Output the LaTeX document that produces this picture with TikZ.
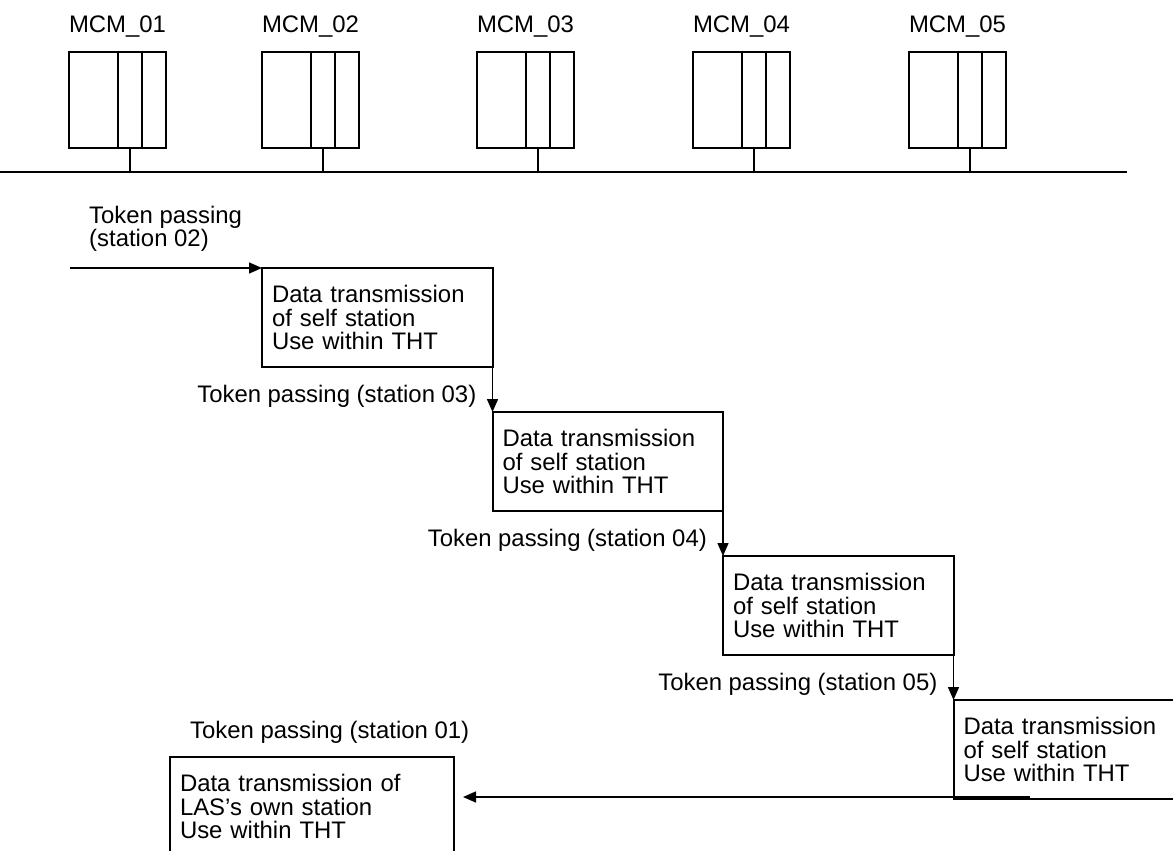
\documentclass[tikz,border=0pt]{standalone}
\usepackage{fontspec}
\setmainfont{Liberation Sans}
\usetikzlibrary{arrows.meta,calc}
\begin{document}
\begin{tikzpicture}[x=1pt,y=-1pt,
  txt/.style={font=\fontsize{23.9}{23.5}\selectfont, inner sep=0pt},
  mcm/.style={draw, line width=2pt, minimum width=97pt, minimum height=96pt, inner sep=0pt, outer sep=0pt, anchor=north west},
  wire/.style={line width=2pt},
  stepbox/.style={draw, line width=2pt, line join=miter, anchor=north west, minimum height=99pt, text width=210.5pt, inner xsep=10pt, inner ysep=0pt, outer sep=0pt, align=left, font=\fontsize{23.9}{23.5}\selectfont},
  conn/.style={line width=1.5pt, -{Triangle[length=13pt,width=11pt]}},
  ]
\useasboundingbox (0,0) rectangle (1173,851);
\clip (0,0) rectangle (1173,851);

% bus
\coordinate (busL) at (0,172);
\coordinate (busR) at (1127,172);
\draw[wire] (busL) -- (busR);

% stations
\foreach \i/\x in {01/69,02/262,03/477,04/693,05/909} {
  \node[mcm] (m\i) at (\x,52) {};
  \draw[wire] ($(m\i.north west)+(49,0)$) -- ($(m\i.south west)+(49,0)$);
  \draw[wire] ($(m\i.north west)+(73,0)$) -- ($(m\i.south west)+(73,0)$);
  \node[txt, anchor=base] (l\i) at ($(m\i.north)+(0,-19)$) {MCM\_\i};
  \coordinate (s\i) at ($(m\i.south west)+(61,0)$);
  \draw[wire] (s\i) -- (s\i |- busL);
}

% sequence boxes
\node[stepbox] (b1) at (262,268) {Data transmission\\of self station\\Use within THT};
\node[stepbox] (b2) at (492.5,412) {Data transmission\\of self station\\Use within THT};
\node[stepbox] (b3) at (723,556) {Data transmission\\of self station\\Use within THT};
\node[stepbox] (b4) at (953.5,700) {Data transmission\\of self station\\Use within THT};
\node[stepbox, draw=none, text width=264pt] (las) at (170,757) {Data transmission of\\LAS's own station\\Use within THT};
\draw[line width=2pt, line join=miter] ($(las.south west)+(0,40)$) -- (las.north west) -- (las.north east) -- ($(las.south east)+(0,40)$);

% connectors
\coordinate (start) at (70,268);
\draw[conn] (start) -- (b1.north west);
\draw[conn] (b1.south east) -- (b2.north west);
\draw[conn] (b2.south east) -- (b3.north west);
\draw[conn] (b3.south east) -- (b4.north west);
\coordinate (ret) at (1030,797);
\draw[conn, shorten >=9pt] (ret) -- (ret -| las.east);

% labels
\node[txt, anchor=north west, align=left, font=\fontsize{23.9}{20.5}\selectfont] (t02) at (89,206) {Token passing\\(station 02)};
\node[txt, anchor=base east] (t03) at ($(b1.south east)+(-16,35)$) {Token passing (station 03)};
\node[txt, anchor=base east] (t04) at ($(b2.south east)+(-16,35)$) {Token passing (station 04)};
\node[txt, anchor=base east] (t05) at ($(b3.south east)+(-16,35)$) {Token passing (station 05)};
\node[txt, anchor=base west] (t01) at (190,738) {Token passing (station 01)};
\end{tikzpicture}
\end{document}
